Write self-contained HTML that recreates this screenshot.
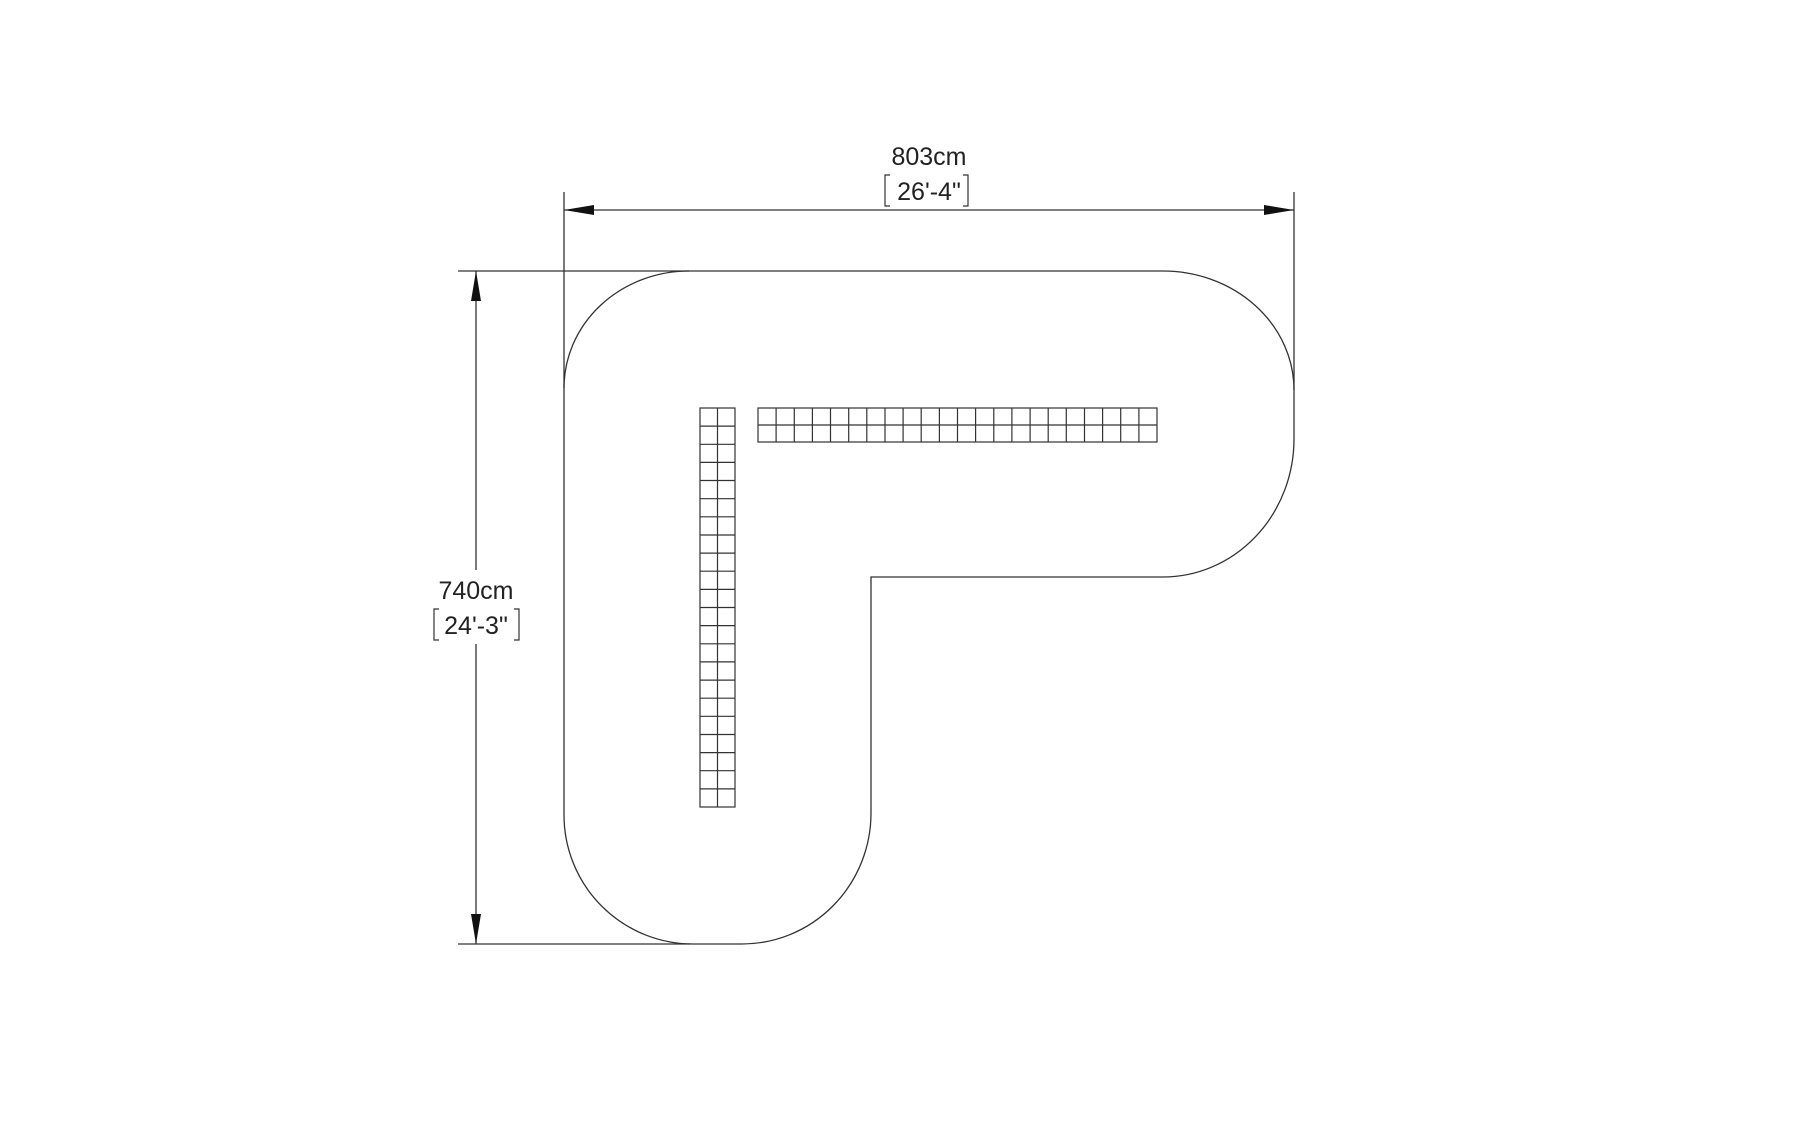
<!DOCTYPE html>
<html><head><meta charset="utf-8"><style>
html,body{margin:0;padding:0;background:#fff;}
svg{display:block}
text{font-family:"Liberation Sans",sans-serif;font-size:25px;fill:#222}
</style></head><body>
<svg width="1800" height="1124" viewBox="0 0 1800 1124" xmlns="http://www.w3.org/2000/svg">
<g stroke="#333" stroke-width="1.3" fill="none">
<path d="M564,388 A125,117 0 0 1 689,271 L1163,271 A131,119 0 0 1 1294,390 L1294,439 A131,138 0 0 1 1163,577 L871,577 L871,813 A129,131 0 0 1 742,944 L693,944 A129,129 0 0 1 564,815 Z"/>
<line x1="564" y1="192" x2="564" y2="388"/>
<line x1="1294" y1="192" x2="1294" y2="390"/>
<line x1="458" y1="271" x2="689" y2="271"/>
<line x1="458" y1="944" x2="690" y2="944"/>
<line x1="564" y1="210" x2="1294" y2="210"/>
<line x1="476" y1="271" x2="476" y2="944"/>
</g>
<g fill="#111">
<polygon points="564,210 594,205 594,215"/>
<polygon points="1294,210 1264,205 1264,215"/>
<polygon points="476,271 471,301 481,301"/>
<polygon points="476,944 471,914 481,914"/>
</g>
<rect x="434" y="570" width="84" height="74" fill="#fff"/>
<text x="929" y="165" text-anchor="middle">803cm</text>
<text x="929" y="200" text-anchor="middle">26'-4"</text>
<path d="M890,175 H885 V206 H890 M963,175 H968 V206 H963" stroke="#333" stroke-width="1.2" fill="none"/>
<text x="476" y="599" text-anchor="middle">740cm</text>
<text x="476" y="634" text-anchor="middle">24'-3"</text>
<path d="M439,609 H434 V640 H439 M514,609 H519 V640 H514" stroke="#333" stroke-width="1.2" fill="none"/>
<g stroke="#333" stroke-width="1.2" fill="none">
<rect x="700" y="408" width="35" height="399"/>
<line x1="717.5" y1="408" x2="717.5" y2="807"/>
<path d="M700,426.1H735M700,444.3H735M700,462.4H735M700,480.5H735M700,498.7H735M700,516.8H735M700,535H735M700,553.1H735M700,571.2H735M700,589.4H735M700,607.5H735M700,625.6H735M700,643.8H735M700,661.9H735M700,680.1H735M700,698.2H735M700,716.3H735M700,734.5H735M700,752.6H735M700,770.7H735M700,788.9H735"/>
<rect x="758" y="408" width="399" height="34"/>
<line x1="758" y1="425" x2="1157" y2="425"/>
<path d="M776.1,408V442M794.3,408V442M812.4,408V442M830.5,408V442M848.7,408V442M866.8,408V442M885,408V442M903.1,408V442M921.2,408V442M939.4,408V442M957.5,408V442M975.6,408V442M993.8,408V442M1011.9,408V442M1030.1,408V442M1048.2,408V442M1066.3,408V442M1084.5,408V442M1102.6,408V442M1120.7,408V442M1138.9,408V442"/>
</g>
</svg>
</body></html>
